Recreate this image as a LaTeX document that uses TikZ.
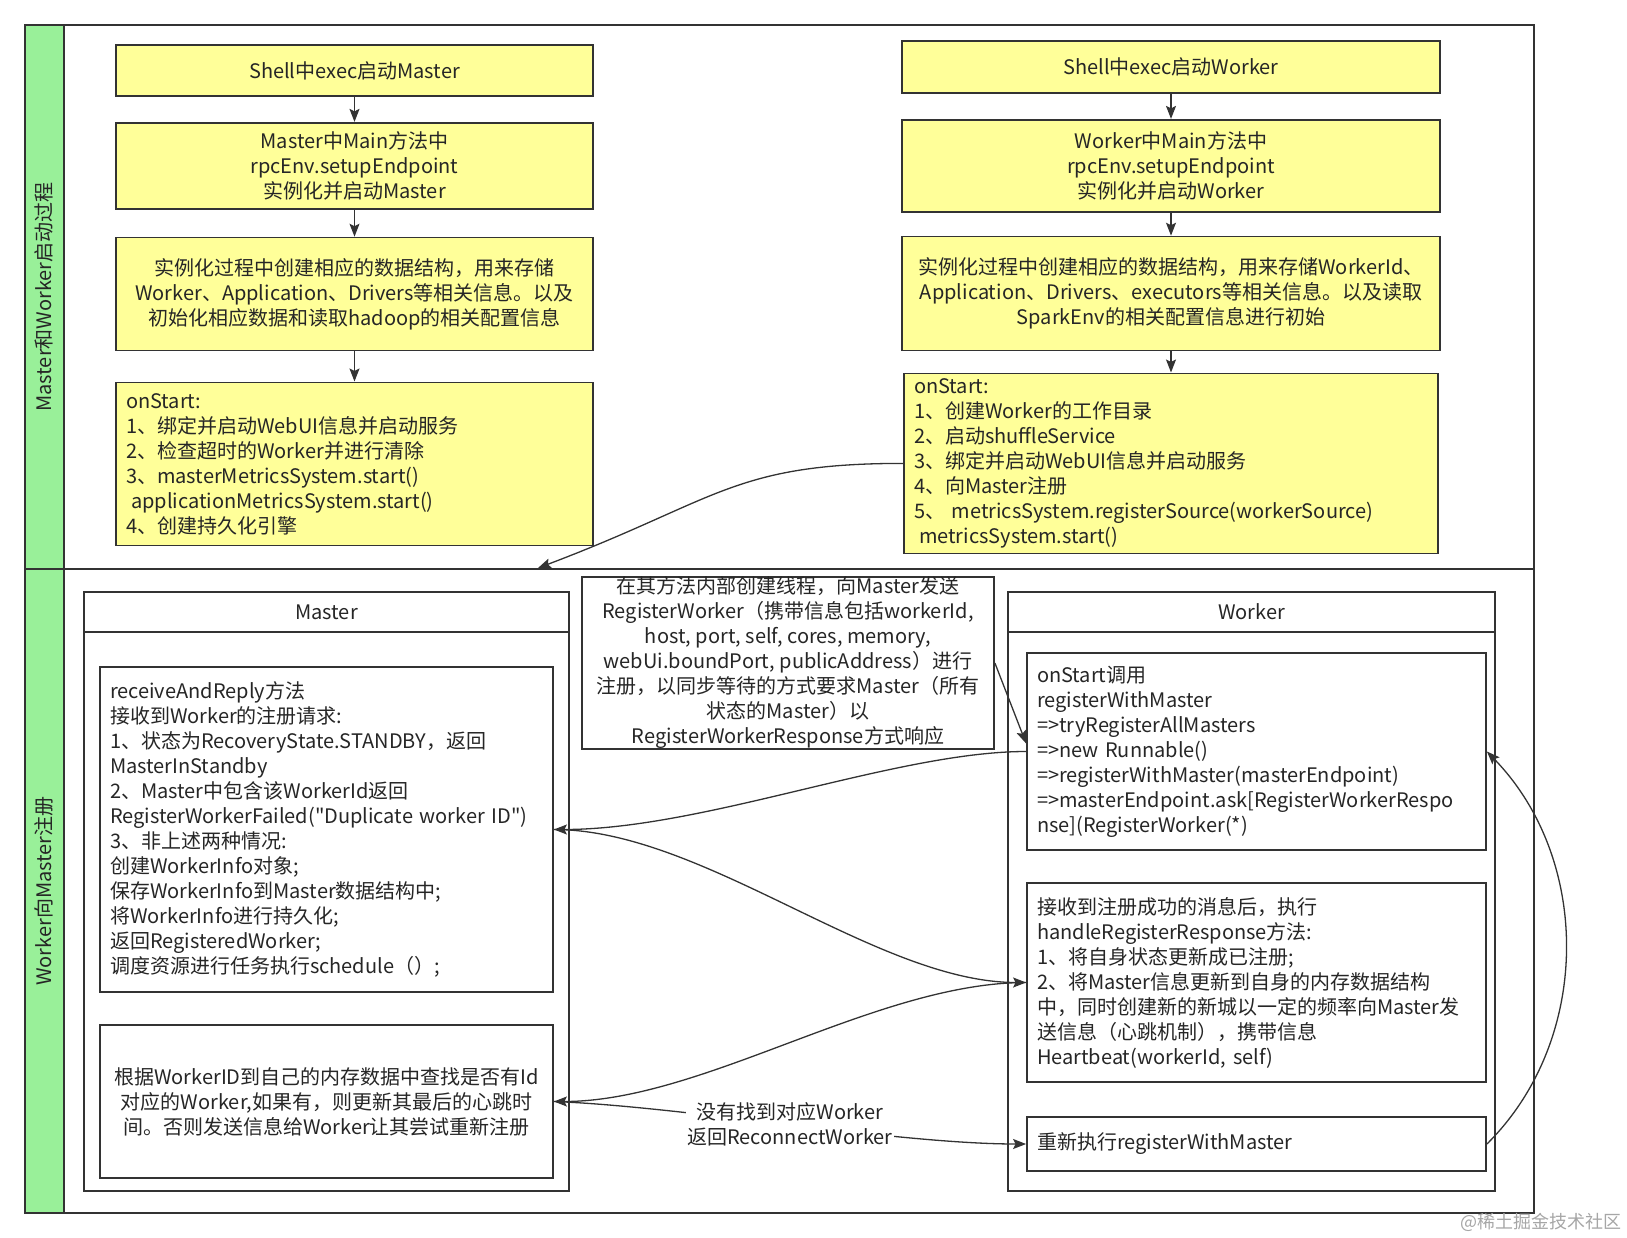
\documentclass[tikz,border=0pt]{standalone}
\usepackage{fontspec}
\setmainfont{Noto Sans CJK SC}[Ligatures=TeXOff]
\usetikzlibrary{positioning}
\usetikzlibrary{arrows.meta}
\definecolor{laneGreen}{RGB}{153,240,153}
\definecolor{boxYellow}{RGB}{255,255,153}
\definecolor{lineGray}{RGB}{51,51,51}

\begin{document}
\begin{tikzpicture}[x=1pt, y=-1pt, font=\fontsize{20}{25}\selectfont, text=black!85,
    pool/.style = {draw=lineGray, line width=1.8pt},
    lanehead/.style = {draw=lineGray, line width=1.8pt, fill=laneGreen, rotate=90, minimum height=39.4pt},
    stage/.style = {draw=lineGray, line width=1.8pt, fill=boxYellow, align=center, minimum width=477pt},
    stagelist/.style = {draw=lineGray, line width=1.8pt, fill=boxYellow, align=left, inner xsep=10pt},
    swimhead/.style = {draw=lineGray, line width=1.8pt, fill=white, minimum height=40pt},
    swimbody/.style = {draw=lineGray, line width=1.8pt, fill=white},
    msgbox/.style = {draw=lineGray, line width=1.8pt, fill=white, align=left, inner xsep=10pt},
    msgcenter/.style = {draw=lineGray, line width=1.8pt, fill=white, align=center},
    notebox/.style = {draw=lineGray, line width=1.8pt, fill=white, align=center, inner sep=0pt},
    flow/.style = {draw=lineGray, line width=1.3pt, -{Stealth[length=13pt,width=10pt,inset=2.5pt]}}]
\useasboundingbox (0,0) rectangle (1627,1238);

% pool with two lanes
\draw[pool] (24.6,25) rectangle (1534,1213);
\draw[pool] (24.6,569) -- (1534,569);
\node[lanehead, minimum width=544pt] (lane1) at (44.3,297) {Master和Worker启动过程};
\node[lanehead, minimum width=644pt] (lane2) at (44.3,891) {Worker向Master注册};

% start of master
\node[stage, minimum height=51pt] (m1) at (354.5,70.5) {Shell中exec启动Master};
\node[stage, minimum height=86pt, below=25pt of m1] (m2) {Master中Main方法中\\rpcEnv.setupEndpoint\\实例化并启动Master};
\node[stage, minimum height=113pt, below=27pt of m2] (m3) {实例化过程中创建相应的数据结构，用来存储\\Worker、Application、Drivers等相关信息。以及\\初始化相应数据和读取hadoop的相关配置信息};
\node[stagelist, text width=457pt, minimum height=163pt, below=30pt of m3] (m4) {onStart:\\1、绑定并启动WebUI信息并启动服务\\2、检查超时的Worker并进行清除\\3、masterMetricsSystem.start()\\\hspace*{0.25em}applicationMetricsSystem.start()\\4、创建持久化引擎};
\draw[flow] (m1) -- (m2);
\draw[flow] (m2) -- (m3);
\draw[flow] (m3) -- (m4);

% start of worker
\node[stage, minimum width=538pt, minimum height=52pt] (w1) at (1171,67) {Shell中exec启动Worker};
\node[stage, minimum width=538pt, minimum height=92pt, below=25pt of w1] (w2) {Worker中Main方法中\\rpcEnv.setupEndpoint\\实例化并启动Worker};
\node[stage, minimum width=538pt, minimum height=114pt, below=23pt of w2] (w3) {实例化过程中创建相应的数据结构，用来存储WorkerId、\\Application、Drivers、executors等相关信息。以及读取\\SparkEnv的相关配置信息进行初始};
\node[stagelist, text width=514pt, minimum height=180pt, below=21pt of w3] (w4) {onStart:\\1、创建Worker的工作目录\\2、启动shuffleService\\3、绑定并启动WebUI信息并启动服务\\4、向Master注册\\5、 metricsSystem.registerSource(workerSource)\\\hspace*{0.25em}metricsSystem.start()};
\draw[flow] (w1) -- (w2);
\draw[flow] (w2) -- (w3);
\draw[flow] (w3) -- (w4);

% master swimlane
\node[swimhead, minimum width=485pt] (mhead) at (326.5,612) {Master};
\node[swimbody, minimum width=485pt, minimum height=559pt] (mbody) at (326.5,911.5) {};
\node[msgbox, text width=433pt, minimum height=325pt] (rr) at (326.5,829.5) {receiveAndReply方法\\接收到Worker的注册请求:\\1、状态为RecoveryState.STANDBY，返回\\MasterInStandby\\2、Master中包含该WorkerId返回\\\mbox{RegisterWorkerFailed("Duplicate worker ID")}\\3、非上述两种情况:\\创建WorkerInfo对象;\\保存WorkerInfo到Master数据结构中;\\将WorkerInfo进行持久化;\\返回RegisteredWorker;\\调度资源进行任务执行schedule（）;};
\node[msgcenter, minimum width=453pt, minimum height=153pt] (hb) at (326.5,1101.5) {根据WorkerID到自己的内存数据中查找是否有Id\\对应的Worker,如果有，则更新其最后的心跳时\\间。否则发送信息给Worker让其尝试重新注册};

% worker swimlane
\node[swimhead, minimum width=487pt] (whead) at (1251.5,612) {Worker};
\node[swimbody, minimum width=487pt, minimum height=559pt] (wbody) at (1251.5,911.5) {};
\node[msgbox, text width=439pt, minimum height=197pt] (os) at (1256.5,751.5) {onStart调用\\registerWithMaster\\=>tryRegisterAllMasters\\=>new Runnable()\\=>registerWithMaster(masterEndpoint)\\=>masterEndpoint.ask[RegisterWorkerRespo\\nse](RegisterWorker(*)};
\node[msgbox, text width=439pt, minimum height=199pt] (hr) at (1256.5,982.5) {接收到注册成功的消息后，执行\\handleRegisterResponse方法:\\1、将自身状态更新成已注册;\\2、将Master信息更新到自身的内存数据结构\\中，同时创建新的新城以一定的频率向Master发\\送信息（心跳机制），携带信息\\Heartbeat(workerId, self)};
\node[msgbox, text width=439pt, minimum height=54pt] (re) at (1256.5,1144) {重新执行registerWithMaster};

% note on the register message
\node[notebox, minimum width=412pt, minimum height=172pt] (note) at (788,663) {在其方法内部创建线程，向Master发送\\RegisterWorker（携带信息包括workerId,\\host, port, self, cores, memory,\\webUi.boundPort, publicAddress）进行\\注册，以同步等待的方式要求Master（所有\\状态的Master）以\\RegisterWorkerResponse方式响应};

% messages
\coordinate (mtop) at (538,568);
\draw[flow] (w4.west) .. controls +(-170,0) and +(180,-68) .. (mtop);
\draw[flow] (note.east) -- (os.178);
\draw[flow] (os.west) .. controls +(-130,0) and +(150,0) .. (rr.east);
\draw[flow] (rr.east) .. controls +(150,0) and +(-150,0) .. (hr.west);
\draw[flow] (hr.west) .. controls +(-150,0) and +(150,0) .. (hb.east);
\draw[flow] (hb.east) .. controls +(130,5) and +(-130,0) .. node[fill=white, inner sep=1pt, align=center] (lost) {没有找到对应Worker\\返回ReconnectWorker} (re.west);
\draw[flow] (re.east) .. controls +(105,-104) and +(105,108) .. (os.east);

\node[text=black!35, font=\fontsize{18}{20}\selectfont] (mark) at (1541,1222) {@稀土掘金技术社区};
\end{tikzpicture}
\end{document}
